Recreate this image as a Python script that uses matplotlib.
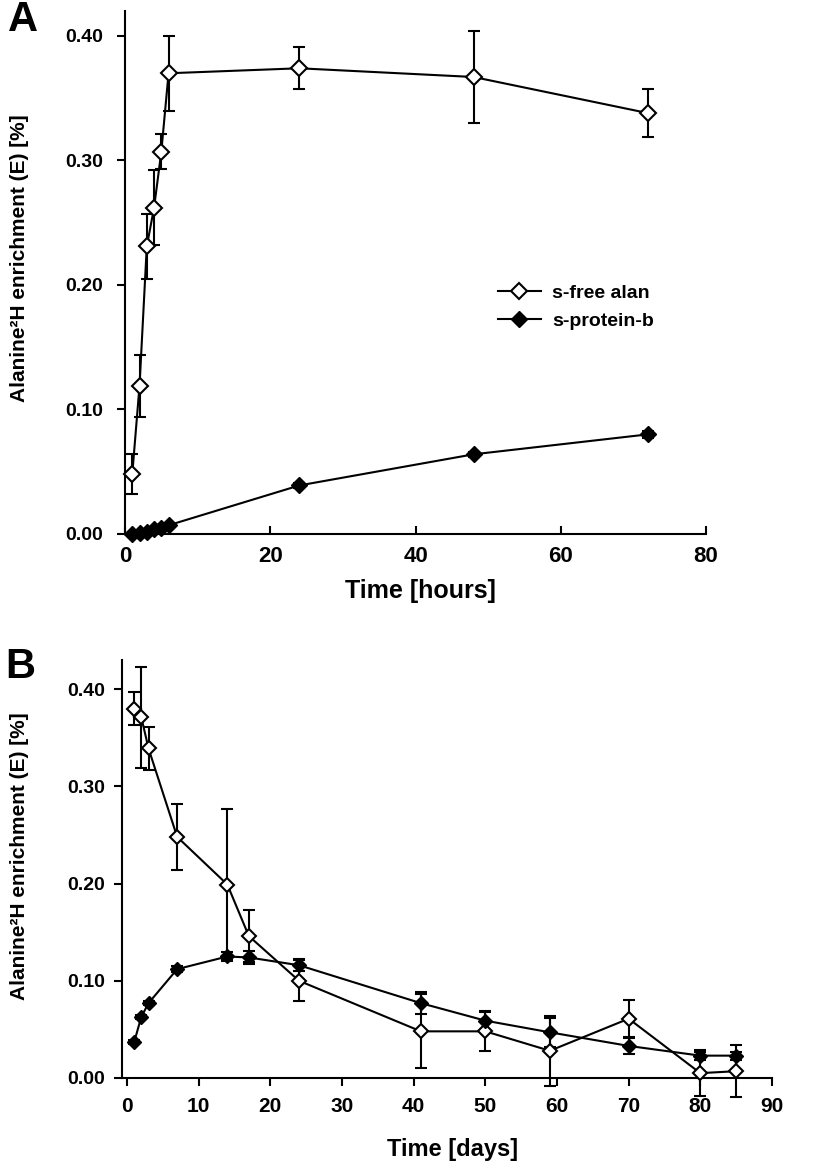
import matplotlib
matplotlib.use("Agg")
import matplotlib.pyplot as plt
from matplotlib import font_manager

# panel A: hours after labelling
hours = [1, 2, 3, 4, 5, 6, 24, 48, 72]
free_a = [0.048, 0.119, 0.231, 0.262, 0.307, 0.370, 0.374, 0.367, 0.338]
free_a_err = [0.016, 0.025, 0.026, 0.030, 0.014, 0.030, 0.017, 0.037, 0.019]
prot_a = [0.000, 0.001, 0.002, 0.004, 0.005, 0.007, 0.039, 0.064, 0.080]
prot_a_err = [0.001, 0.001, 0.001, 0.001, 0.001, 0.001, 0.002, 0.002, 0.003]

# panel B: days after labelling
days = [1, 2, 3, 7, 14, 17, 24, 41, 50, 59, 70, 80, 85]
free_b = [0.380, 0.371, 0.339, 0.248, 0.199, 0.146, 0.100, 0.048, 0.048, 0.028, 0.061, 0.005, 0.007]
free_b_err = [0.017, 0.052, 0.022, 0.034, 0.078, 0.027, 0.021, 0.038, 0.020, 0.036, 0.019, 0.024, 0.027]
prot_b = [0.037, 0.063, 0.077, 0.112, 0.125, 0.124, 0.116, 0.077, 0.059, 0.047, 0.033, 0.023, 0.023]
prot_b_err = [0.002, 0.002, 0.002, 0.003, 0.005, 0.007, 0.006, 0.011, 0.010, 0.015, 0.008, 0.004, 0.004]

yticks = [0.0, 0.1, 0.2, 0.3, 0.4]
ylabel = "Alanine²H enrichment (E) [%]"
legend_labels = ["s-free alan", "s-protein-b"]

names = {f.name for f in font_manager.fontManager.ttflist}
narrow = "Liberation Sans Narrow" if "Liberation Sans Narrow" in names else "Liberation Sans"
plt.rcParams["font.family"] = ["Liberation Sans", "DejaVu Sans"]

W, H = 819, 1170
fig = plt.figure(figsize=(W / 100, H / 100), dpi=100)


def draw(ax, x, free, free_err, prot, prot_err, ms):
    ax.errorbar(x, free, yerr=free_err, fmt="none", ecolor="black", elinewidth=1.5,
                capsize=4.5, capthick=1.5, clip_on=False, zorder=2)
    ax.errorbar(x, prot, yerr=prot_err, fmt="none", ecolor="black", elinewidth=1.5,
                capsize=4.5, capthick=1.5, clip_on=False, zorder=2)
    l1, = ax.plot(x, free, "-", color="black", lw=1.5, marker="D", ms=ms,
                  mfc="white", mec="black", mew=1.5, clip_on=False, zorder=3)
    l2, = ax.plot(x, prot, "-", color="black", lw=1.5, marker="D", ms=ms,
                  mfc="black", mec="black", mew=1.0, clip_on=False, zorder=4)
    for s in ["top", "right"]:
        ax.spines[s].set_visible(False)
    for s in ["left", "bottom"]:
        ax.spines[s].set_linewidth(1.5)
    ax.set_yticks(yticks)
    ax.set_yticklabels(["%.2f" % v for v in yticks], fontsize=14, fontweight="bold")
    return l1, l2


# ---- panel A
axA = fig.add_axes([125 / W, 1 - 534 / H, 581 / W, 523 / H])
h1, h2 = draw(axA, hours, free_a, free_a_err, prot_a, prot_a_err, 8.5)
axA.set_xlim(0, 80)
axA.set_ylim(0, 0.42)
axA.set_xticks([0, 20, 40, 60, 80])
axA.set_xticklabels(["0", "20", "40", "60", "80"], fontsize=16, fontweight="bold", family=narrow)
axA.tick_params(axis="y", direction="out", length=6, width=1.5, pad=10)
axA.tick_params(axis="x", direction="in", length=6, width=1.5, pad=9)
axA.set_xlabel("Time [hours]", fontsize=18, fontweight="bold", family=narrow)
axA.xaxis.set_label_coords(0.509, -0.086)
fig.text(20 / W, 1 - 258 / H, ylabel, rotation=90, ha="center", va="center",
         fontsize=15, fontweight="bold")
axA.legend([h1, h2], legend_labels, loc="upper left", frameon=False,
           bbox_to_anchor=(498 / W, 1 - 284 / H), bbox_transform=fig.transFigure,
           borderaxespad=0, borderpad=0, handlelength=2.2, handletextpad=0.6,
           labelspacing=0.55, prop={"weight": "bold", "size": 14})

# ---- panel B
axB = fig.add_axes([122 / W, 1 - 1078 / H, 650 / W, 418 / H])
draw(axB, days, free_b, free_b_err, prot_b, prot_b_err, 7.5)
axB.set_xlim(-0.7, 90)
axB.set_ylim(0, 0.43)
xt = list(range(0, 100, 10))
axB.set_xticks(xt)
axB.set_xticklabels([str(v) for v in xt], fontsize=15, fontweight="bold", family=narrow)
axB.tick_params(axis="y", direction="out", length=6, width=1.5, pad=6)
axB.tick_params(axis="x", direction="out", length=6, width=1.5, pad=8)
axB.set_xlabel("Time [days]", fontsize=17, fontweight="bold", family=narrow)
axB.xaxis.set_label_coords(0.508, -0.143)
fig.text(20 / W, 1 - 856 / H, ylabel, rotation=90, ha="center", va="center",
         fontsize=15, fontweight="bold")

fig.text(8 / W, 1 - 20 / H, "A", fontsize=30, fontweight="bold", va="center", ha="left")
fig.text(5 / W, 1 - 667 / H, "B", fontsize=30, fontweight="bold", va="center", ha="left")

fig.savefig("out.png", dpi=100)
